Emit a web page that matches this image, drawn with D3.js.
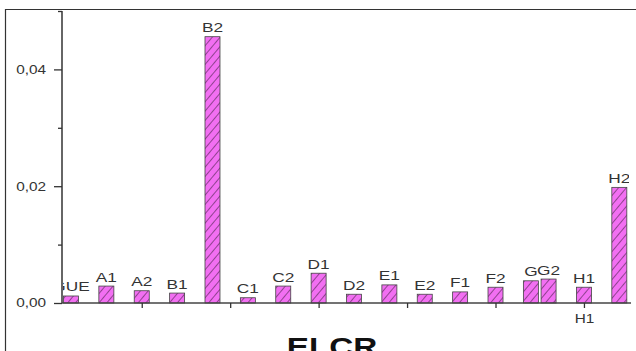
<!DOCTYPE html>
<html>
<head>
<meta charset="utf-8">
<script src="https://cdn.jsdelivr.net/npm/d3@7"></script>
<style>
  html, body { margin: 0; padding: 0; background: #fff; }
  svg { display: block; }
</style>
</head>
<body>
<svg id="chart" width="636" height="351"></svg>
<script>
// ELCR per sample
const categories = ["GUE","A1","A2","B1","B2","C1","C2","D1","D2","E1","E2","F1","F2","G","G2","H1","H2"];
const xValues    = [0,1,2,3,4,5,6,7,8,9,10,11,12,13,13.5,14.5,15.5];
const elcr       = [0.0012,0.0029,0.0021,0.0017,0.0456,0.0009,0.0029,0.0051,0.0015,0.0031,0.0015,0.0019,0.0027,0.0038,0.0041,0.0027,0.0198];
const yMajorTicks = [0, 0.02, 0.04];
const yMinorTicks = [0.01, 0.03, 0.05];
const xTickValues = [2, 4.5, 7, 9.5, 12, 14.5];
const xTickLabels = ["", "", "", "", "", "H1"];
const axisTitle = "ELCR";

const data = categories.map((c, i) => ({ name: c, x: xValues[i], v: elcr[i] }));

const FONT = "'Liberation Sans', Arial, sans-serif";
const STRETCH = 1.28;   // wide lettering

const svg = d3.select("#chart");
const W = 636, H = 351;
const plot = { left: 62, right: 631, top: 11, bottom: 303 };

// outer frame (left and top edges visible)
svg.append("path")
  .attr("d", `M5.5,${H} V9.5 H${W}`)
  .attr("fill", "none").attr("stroke", "#333").attr("stroke-width", 1.2);

const x = d3.scaleLinear().domain([-0.254, 15.83]).range([plot.left, plot.right]);
const y = d3.scaleLinear().domain([0, 0.05]).range([plot.bottom, plot.top]);

const defs = svg.append("defs");
defs.append("clipPath").attr("id", "plotClip")
  .append("rect").attr("x", plot.left + 1).attr("y", 0)
  .attr("width", plot.right - plot.left - 3).attr("height", plot.bottom);

// diagonal hatch
const pat = defs.append("pattern")
  .attr("id", "hatch").attr("patternUnits", "userSpaceOnUse")
  .attr("width", 6).attr("height", 6)
  .attr("patternTransform", "rotate(40)");
pat.append("rect").attr("width", 6).attr("height", 6).attr("fill", "#f26ff2");
pat.append("line").attr("x1", 0).attr("y1", 0).attr("x2", 0).attr("y2", 6)
  .attr("stroke", "#5a2a5a").attr("stroke-width", 1.3);

const barW = 15;

svg.append("g").selectAll("rect").data(data).join("rect")
  .attr("x", d => x(d.x) - barW / 2)
  .attr("y", d => y(d.v))
  .attr("width", barW)
  .attr("height", d => y(0) - y(d.v))
  .attr("fill", "url(#hatch)")
  .attr("stroke", "#444").attr("stroke-width", 0.8);

// value-point labels, clipped to the plot area
svg.append("g").attr("clip-path", "url(#plotClip)")
  .selectAll("text").data(data).join("text")
  .attr("transform", d => `translate(${x(d.x)},${y(d.v) - 4.5}) scale(${STRETCH},1)`)
  .attr("text-anchor", "middle")
  .attr("font-family", FONT)
  .attr("font-size", 13.5)
  .attr("fill", "#333")
  .text(d => d.name);

// y axis
const fmt = v => d3.format(".2f")(v).replace(".", ",");
const yAxis = svg.append("g").attr("transform", `translate(${plot.left},0)`)
  .call(d3.axisLeft(y).tickValues(yMajorTicks).tickFormat(fmt).tickSize(8).tickPadding(6));
yAxis.select(".domain").attr("d", `M0,${plot.top}V${plot.bottom}`).attr("stroke", "#333").attr("stroke-width", 1.5);
yAxis.selectAll(".tick line").attr("stroke", "#333").attr("stroke-width", 1.3);
yAxis.selectAll(".tick text")
  .attr("x", null)
  .attr("transform", `translate(-16,0) scale(${STRETCH},1)`)
  .attr("font-family", FONT)
  .attr("font-size", 12).attr("fill", "#333");
svg.append("g").attr("transform", `translate(${plot.left},0)`)
  .call(d3.axisLeft(y).tickValues(yMinorTicks).tickFormat("").tickSize(4))
  .call(g => g.select(".domain").remove())
  .selectAll(".tick line").attr("stroke", "#333").attr("stroke-width", 1.3);

// x axis
const xAxis = svg.append("g").attr("transform", `translate(0,${plot.bottom})`)
  .call(d3.axisBottom(x).tickValues(xTickValues).tickFormat((d, i) => xTickLabels[i]).tickSize(5).tickPadding(4));
xAxis.select(".domain").attr("d", `M${plot.left},0H${plot.right}`).attr("stroke", "#444").attr("stroke-width", 1.5);
xAxis.selectAll(".tick line").attr("stroke", "#333").attr("stroke-width", 1.3);
xAxis.selectAll(".tick text")
  .attr("y", null).attr("dy", null)
  .attr("transform", `translate(0,20) scale(${STRETCH},1)`)
  .attr("font-family", FONT)
  .attr("font-size", 12).attr("fill", "#333");

svg.append("text")
  .attr("transform", `translate(332,356) scale(${STRETCH},1)`)
  .attr("text-anchor", "middle")
  .attr("font-family", FONT)
  .attr("font-weight", "bold").attr("font-size", 26)
  .attr("fill", "#111")
  .text(axisTitle);
</script>
</body>
</html>
